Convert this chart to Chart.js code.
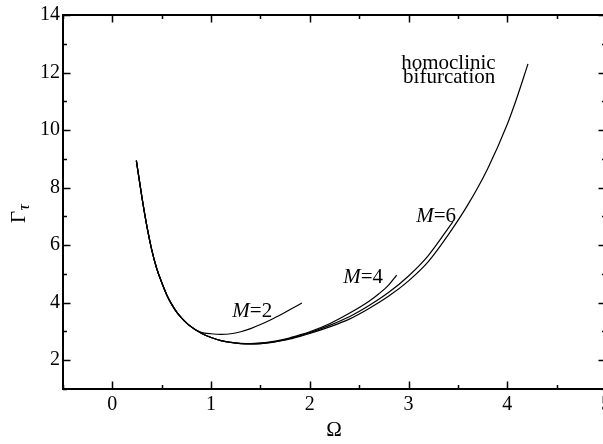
<!DOCTYPE html>
<html>
<head>
<meta charset="utf-8">
<script src="https://cdn.jsdelivr.net/npm/chart.js@4/dist/chart.umd.min.js"></script>
<style>
  html, body { margin: 0; padding: 0; background: #fff; overflow: hidden; }
  #wrap { position: relative; width: 615px; height: 444px; }
</style>
</head>
<body>
<div id="wrap"><canvas id="chart"></canvas></div>
<script>
// Γτ versus Ω for truncation orders M = 2, 4, 6 and the limiting branch
// that ends at the homoclinic bifurcation.
const omegaLimit = [0.243, 0.30, 0.35, 0.40, 0.45, 0.50, 0.55, 0.60, 0.65, 0.70, 0.75, 0.80, 0.85, 0.90,
                    1.0, 1.1, 1.2, 1.3, 1.4, 1.5, 1.6, 1.7, 1.8, 1.9, 2.0, 2.2, 2.4, 2.6, 2.8, 3.0,
                    3.2, 3.4, 3.6, 3.8, 4.0, 4.1, 4.21];
const gammaLimit = [8.94, 7.65, 6.65, 5.82, 5.18, 4.70, 4.28, 3.95, 3.68, 3.47, 3.30, 3.16, 3.04, 2.94,
                    2.79, 2.68, 2.62, 2.58, 2.57, 2.58, 2.61, 2.67, 2.74, 2.83, 2.93, 3.16, 3.43, 3.80, 4.23, 4.76,
                    5.43, 6.35, 7.40, 8.65, 10.2, 11.15, 12.3];

const omegaM2 = [0.243, 0.30, 0.35, 0.40, 0.45, 0.50, 0.55, 0.60, 0.65, 0.70, 0.75, 0.80, 0.85,
                 0.90, 1.0, 1.1, 1.2, 1.3, 1.4, 1.5, 1.6, 1.7, 1.8, 1.92];
const gammaM2 = [8.94, 7.65, 6.65, 5.82, 5.18, 4.70, 4.28, 3.95, 3.68, 3.47, 3.30, 3.16, 3.04,
                 2.97, 2.92, 2.90, 2.92, 2.99, 3.10, 3.24, 3.40, 3.57, 3.76, 3.99];

const omegaM4 = [0.243, 0.30, 0.35, 0.40, 0.45, 0.50, 0.55, 0.60, 0.65, 0.70, 0.75, 0.80, 0.85, 0.90,
                 1.0, 1.1, 1.2, 1.3, 1.4, 1.5, 1.6, 1.7, 1.8, 1.9, 2.0, 2.2, 2.4, 2.6, 2.7, 2.8, 2.88];
const gammaM4 = [8.94, 7.65, 6.65, 5.82, 5.18, 4.70, 4.28, 3.95, 3.68, 3.47, 3.30, 3.16, 3.04, 2.94,
                 2.79, 2.68, 2.62, 2.59, 2.58, 2.60, 2.64, 2.70, 2.78, 2.88, 2.99, 3.27, 3.63, 4.05, 4.31, 4.62, 4.96];

const omegaM6 = [0.243, 0.30, 0.35, 0.40, 0.45, 0.50, 0.55, 0.60, 0.65, 0.70, 0.75, 0.80, 0.85, 0.90,
                 1.0, 1.1, 1.2, 1.3, 1.4, 1.5, 1.6, 1.7, 1.8, 1.9, 2.0, 2.2, 2.4, 2.6, 2.8, 3.0, 3.2, 3.45];
const gammaM6 = [8.94, 7.65, 6.65, 5.82, 5.18, 4.70, 4.28, 3.95, 3.68, 3.47, 3.30, 3.16, 3.04, 2.94,
                 2.79, 2.68, 2.62, 2.58, 2.57, 2.58, 2.62, 2.68, 2.76, 2.85, 2.96, 3.21, 3.51, 3.90, 4.36, 4.93, 5.64, 6.82];

const xTickLabels = [0, 1, 2, 3, 4, 5];
const xMinorTicks = [-0.5, 0.5, 1.5, 2.5, 3.5, 4.5];
const yTickLabels = [2, 4, 6, 8, 10, 12, 14];
const yMinorTicks = [1, 3, 5, 7, 9, 11, 13];

const mOrders = [2, 4, 6];
// anchor (Ω, Γτ) of each "M=…" text, left/baseline
const mLabelAnchors = [[1.215, 3.50], [2.338, 4.67], [3.077, 6.82]];
const bifurcationText = ['homoclinic', 'bifurcation'];
const bifurcationAnchors = [[2.925, 12.13], [2.945, 11.62]];

const SERIF = "'Liberation Serif', serif";

function toPoints(xs, ys) { return xs.map((v, i) => ({ x: v, y: ys[i] })); }

function curve(xs, ys) {
  return {
    data: toPoints(xs, ys),
    showLine: true,
    borderColor: '#000',
    borderWidth: 1.2,
    pointRadius: 0,
    fill: false,
    cubicInterpolationMode: 'monotone'
  };
}

const framePlugin = {
  id: 'frame',
  afterDraw(chart) {
    const { ctx, chartArea: a, scales: { x, y } } = chart;
    ctx.save();
    ctx.strokeStyle = '#000';
    // inward tick marks on all four sides
    ctx.lineWidth = 1.5;
    ctx.beginPath();
    const xt = xTickLabels.map(v => [v, 7.5]).concat(xMinorTicks.map(v => [v, 4]));
    xt.forEach(([v, len]) => {
      const px = Math.round(x.getPixelForValue(v)) + 0.5;
      ctx.moveTo(px, a.bottom); ctx.lineTo(px, a.bottom - len);
      ctx.moveTo(px, a.top); ctx.lineTo(px, a.top + len);
    });
    const yt = yTickLabels.map(v => [v, 7.5]).concat(yMinorTicks.map(v => [v, 4]));
    yt.forEach(([v, len]) => {
      const py = Math.round(y.getPixelForValue(v)) + 0.5;
      ctx.moveTo(a.left, py); ctx.lineTo(a.left + len, py);
      ctx.moveTo(a.right, py); ctx.lineTo(a.right - len, py);
    });
    ctx.stroke();
    // axis frame
    ctx.lineWidth = 2;
    ctx.strokeRect(a.left, a.top, a.right - a.left, a.bottom - a.top);

    ctx.fillStyle = '#000';
    ctx.textBaseline = 'alphabetic';
    ctx.textAlign = 'left';
    // M = … labels
    mOrders.forEach((m, i) => {
      const px = x.getPixelForValue(mLabelAnchors[i][0]);
      const py = y.getPixelForValue(mLabelAnchors[i][1]);
      ctx.font = 'italic 21px ' + SERIF;
      ctx.fillText('M', px, py);
      const w = ctx.measureText('M').width;
      ctx.font = '21px ' + SERIF;
      ctx.fillText('=' + m, px + w, py);
    });
    // bifurcation note
    ctx.font = '21px ' + SERIF;
    bifurcationText.forEach((t, i) => {
      ctx.fillText(t, x.getPixelForValue(bifurcationAnchors[i][0]), y.getPixelForValue(bifurcationAnchors[i][1]));
    });

    // axis titles
    ctx.textAlign = 'center';
    ctx.font = '21px ' + SERIF;
    ctx.fillText('Ω', 334, 436);

    ctx.save();
    ctx.translate(25, 223);
    ctx.rotate(-Math.PI / 2);
    ctx.textAlign = 'left';
    ctx.font = '21px ' + SERIF;
    ctx.fillText('Γ', 0, 0);
    const gw = ctx.measureText('Γ').width;
    ctx.font = 'italic 17px ' + SERIF;
    ctx.fillText('τ', gw + 0.5, 4);
    ctx.restore();

    ctx.restore();
  }
};

new Chart(document.getElementById('chart'), {
  type: 'scatter',
  data: {
    datasets: [
      curve(omegaM2, gammaM2),
      curve(omegaM4, gammaM4),
      curve(omegaM6, gammaM6),
      curve(omegaLimit, gammaLimit)
    ]
  },
  options: {
    responsive: true,
    maintainAspectRatio: false,
    devicePixelRatio: 1,
    animation: false,
    layout: { padding: { left: 0, top: 14, right: 9, bottom: 0 } },
    plugins: { legend: { display: false }, tooltip: { enabled: false } },
    scales: {
      x: {
        type: 'linear',
        min: -0.5,
        max: 5,
        grid: { display: false, drawTicks: false },
        border: { display: false },
        afterBuildTicks(s) { s.ticks = xTickLabels.map(v => ({ value: v })); },
        afterFit(s) { s.height = 55; },
        ticks: {
          color: '#000',
          padding: 4,
          maxRotation: 0,
          font: { family: SERIF, size: 20 },
          callback: v => String(v)
        }
      },
      y: {
        type: 'linear',
        min: 1,
        max: 14,
        grid: { display: false, drawTicks: false },
        border: { display: false },
        afterBuildTicks(s) { s.ticks = yTickLabels.map(v => ({ value: v })); },
        afterFit(s) { s.width = 63; },
        ticks: {
          color: '#000',
          padding: 3,
          font: { family: SERIF, size: 20 },
          callback: v => String(v)
        }
      }
    }
  },
  plugins: [framePlugin]
});
</script>
</body>
</html>
